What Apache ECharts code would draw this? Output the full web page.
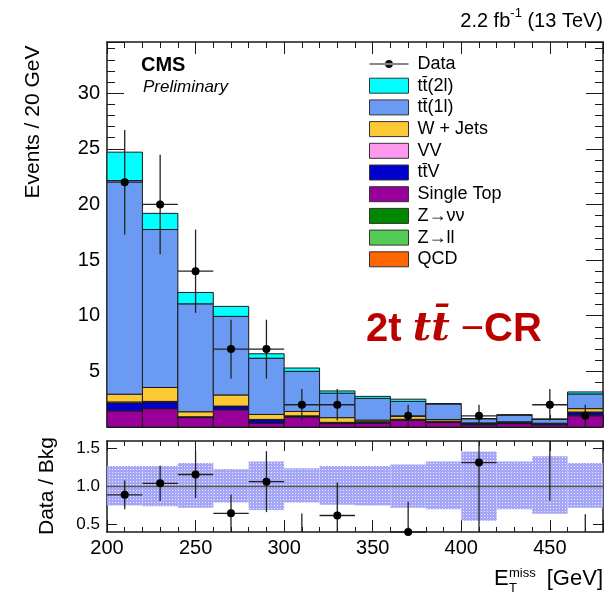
<!DOCTYPE html>
<html>
<head>
<meta charset="utf-8">
<script src="https://cdn.jsdelivr.net/npm/echarts@6.0.0/dist/echarts.min.js"></script>
<style>
    html, body { margin: 0; padding: 0; background: #fff; }
    #chart { width: 608px; height: 592px; }
</style>
</head>
<body>
<div id="chart"></div>
<script>
// bins of MET, 20 GeV wide, last one carries the overflow
const binLow = [200, 220, 240, 260, 280, 300, 320, 340, 360, 380, 400, 420, 440, 460];
const binWidth = 20;

// stacked backgrounds (events / bin), bottom of the stack first
const qcd       = [0, 0, 0, 0, 0, 0, 0, 0, 0, 0, 0, 0, 0, 0];
const zll       = [0, 0, 0, 0, 0, 0, 0, 0, 0, 0, 0, 0, 0, 0];
const zvv       = [0, 0, 0, 0, 0, 0, 0, 0, 0, 0, 0, 0, 0, 0];
const singleTop = [1.45, 1.65, 0.85, 1.55, 0.35, 0.9, 0.3, 0.35, 0.6, 0.4, 0.2, 0.3, 0.2, 1.05];
const ttV       = [0.7, 0.6, 0.05, 0.3, 0.3, 0.08, 0.1, 0.1, 0.08, 0.1, 0.1, 0.1, 0.1, 0.25];
const vv        = [0.1, 0.05, 0.02, 0.03, 0.03, 0.02, 0.02, 0.02, 0.02, 0.02, 0.02, 0.02, 0.02, 0.05];
const wJets     = [0.7, 1.25, 0.45, 1.0, 0.45, 0.4, 0.42, 0.15, 0.25, 0.15, 0.05, 0.05, 0.02, 0.3];
const tt1l      = [19.2, 14.2, 9.7, 7.06, 5.05, 3.6, 2.2, 1.95, 1.35, 1.4, 0.37, 0.6, 0.35, 1.32];
const tt2l      = [2.55, 1.45, 1.02, 0.9, 0.4, 0.3, 0.2, 0.18, 0.2, 0.03, 0.02, 0.03, 0.03, 0.18];

// observed events
const dataCounts = [22, 20, 14, 7, 7, 2, 2, 0, 1, 0, 1, 0, 2, 1];

// background uncertainty band in the ratio panel
const bandUp   = [1.27, 1.27, 1.31, 1.23, 1.33, 1.24, 1.27, 1.27, 1.29, 1.33, 1.46, 1.33, 1.40, 1.31];
const bandDown = [0.75, 0.74, 0.72, 0.79, 0.69, 0.79, 0.76, 0.75, 0.72, 0.70, 0.55, 0.70, 0.64, 0.72];

const FONT = '"Liberation Sans", Arial, Helvetica, sans-serif';
const INK = '#1a1a1a';

const components = [
    { name: 'QCD', color: '#ff6600', values: qcd },
    { name: 'Z→ll', color: '#55cc55', values: zll },
    { name: 'Z→νν', color: '#008800', values: zvv },
    { name: 'Single Top', color: '#990099', values: singleTop },
    { name: 'tt\u0304V', color: '#0000cc', values: ttV },
    { name: 'VV', color: '#ff99ee', values: vv },
    { name: 'W + Jets', color: '#fcc934', values: wJets },
    { name: 'tt\u0304(1l)', color: '#6b9af3', values: tt1l },
    { name: 'tt\u0304(2l)', color: '#00ffff', values: tt2l },
];

// dotted tile for the uncertainty band (lavender with small white holes)
const tile = document.createElement('canvas');
tile.width = 3;
tile.height = 3;
const tctx = tile.getContext('2d');
tctx.fillStyle = '#a6a6f7';
tctx.fillRect(0, 0, 3, 3);
tctx.fillStyle = '#ececfd';
tctx.fillRect(1, 1, 1, 1);

function histItem(params, api) {
    const p0 = api.coord([api.value(0), api.value(3)]);
    const p1 = api.coord([api.value(1), api.value(2)]);
    return {
        type: 'rect',
        shape: { x: p0[0], y: p0[1], width: p1[0] - p0[0], height: p1[1] - p0[1] },
        style: { fill: api.visual('color'), stroke: INK, lineWidth: 1 },
    };
}

function bandItem(params, api) {
    const p0 = api.coord([api.value(0), api.value(3)]);
    const p1 = api.coord([api.value(1), api.value(2)]);
    return {
        type: 'rect',
        shape: { x: p0[0], y: p0[1], width: p1[0] - p0[0], height: p1[1] - p0[1] },
        style: { fill: { image: tile, repeat: 'repeat' } },
    };
}

function dataItem(params, api) {
    const x = api.value(0);
    const n = api.value(1);
    if (n <= 0) return null;
    const e = Math.sqrt(n);
    const c = api.coord([x, n]);
    const t = api.coord([x, n + e]);
    const b = api.coord([x, n - e]);
    const l = api.coord([x - binWidth / 2, n]);
    const r = api.coord([x + binWidth / 2, n]);
    const line = { stroke: '#222', lineWidth: 1.3 };
    return {
        type: 'group',
        children: [
            { type: 'line', shape: { x1: c[0], y1: t[1], x2: c[0], y2: b[1] }, style: line },
            { type: 'line', shape: { x1: l[0], y1: c[1], x2: r[0], y2: c[1] }, style: line },
            { type: 'circle', shape: { cx: c[0], cy: c[1], r: 4 }, style: { fill: '#000' } },
        ],
    };
}

function ratioItem(params, api) {
    const x = api.value(0);
    const n = api.value(1);
    const tot = api.value(2);
    if (n <= 0) return null;
    const cs = params.coordSys;
    const yTop = cs.y;
    const yBot = cs.y + cs.height;
    const clamp = (y) => Math.min(yBot, Math.max(yTop, y));
    const e = Math.sqrt(n);
    const c = api.coord([x, n / tot]);
    const hi = clamp(api.coord([x, (n + e) / tot])[1]);
    const lo = clamp(api.coord([x, (n - e) / tot])[1]);
    const line = { stroke: '#222', lineWidth: 1.3 };
    const children = [];
    if (lo > hi) {
        children.push({ type: 'line', shape: { x1: c[0], y1: hi, x2: c[0], y2: lo }, style: line });
    }
    if (c[1] >= yTop - 1 && c[1] <= yBot + 1) {
        const l = api.coord([x - binWidth / 2, n / tot]);
        const r = api.coord([x + binWidth / 2, n / tot]);
        children.push({ type: 'line', shape: { x1: l[0], y1: c[1], x2: r[0], y2: c[1] }, style: line });
        children.push({ type: 'circle', shape: { cx: c[0], cy: c[1], r: 4 }, style: { fill: '#000' } });
    }
    return { type: 'group', children };
}

// build stacked series
const cum = binLow.map(() => 0);
const histSeries = components.map((comp) => ({
    type: 'custom',
    name: comp.name,
    xAxisIndex: 0,
    yAxisIndex: 0,
    silent: true,
    itemStyle: { color: comp.color },
    encode: { x: [0, 1], y: [2, 3] },
    renderItem: histItem,
    data: binLow.map((x, i) => {
        const base = cum[i];
        cum[i] += comp.values[i];
        return [x, x + binWidth, base, cum[i]];
    }),
}));
const totals = cum.slice();

// axis helpers
function xAx(grid, pos, interval, len, extra) {
    return Object.assign({
        type: 'value', gridIndex: grid, position: pos, min: 200, max: 480, interval: interval,
        axisLine: { show: false, onZero: false },
        axisTick: { show: true, inside: true, length: len, lineStyle: { color: INK, width: 1 } },
        axisLabel: { show: false },
        splitLine: { show: false },
    }, extra || {});
}
function yAx(grid, pos, min, max, interval, len, extra) {
    return Object.assign({
        type: 'value', gridIndex: grid, position: pos, min: min, max: max, interval: interval,
        axisLine: { show: false, onZero: false },
        axisTick: { show: true, inside: true, length: len, lineStyle: { color: INK, width: 1 } },
        axisLabel: { show: false },
        splitLine: { show: false },
    }, extra || {});
}
const frameLine = { show: true, onZero: false, lineStyle: { color: INK, width: 1.5 } };

const chart = echarts.init(document.getElementById('chart'), null, { renderer: 'canvas' });

chart.setOption({
    animation: false,
    backgroundColor: '#fff',
    textStyle: { fontFamily: FONT, color: '#000' },
    grid: [
        { left: 107, right: 5, top: 42, height: 385 },
        { left: 107, right: 5, top: 441, height: 91 },
    ],
    xAxis: [
        xAx(0, 'bottom', 50, 12, { axisLine: frameLine }),
        xAx(0, 'bottom', 10, 6),
        xAx(0, 'top', 50, 12, { axisLine: frameLine }),
        xAx(0, 'top', 10, 6),
        xAx(1, 'bottom', 50, 12, {
            axisLine: frameLine,
            axisLabel: {
                show: true, fontSize: 20, color: '#000', margin: 6,
                formatter: (v) => (v % 50 === 0 && v < 480 ? String(v) : ''),
            },
        }),
        xAx(1, 'bottom', 10, 5),
        xAx(1, 'top', 50, 10, { axisLine: frameLine }),
        xAx(1, 'top', 10, 5),
    ],
    yAxis: [
        yAx(0, 'left', 0, 34.6, 5, 17, {
            axisLine: frameLine,
            axisLabel: {
                show: true, fontSize: 20, color: '#000', margin: 7,
                formatter: (v) => (v > 0 && v % 5 === 0 ? String(v) : ''),
            },
        }),
        yAx(0, 'left', 0, 34.6, 1, 8),
        yAx(0, 'right', 0, 34.6, 5, 17, { axisLine: frameLine }),
        yAx(0, 'right', 0, 34.6, 1, 8),
        yAx(1, 'left', 0.4, 1.6, 0.1, 10, {
            axisLine: frameLine,
            axisTick: { show: true, inside: true, length: 10, customValues: [0.5, 1, 1.5], lineStyle: { color: INK } },
            axisLabel: {
                show: true, fontSize: 17, color: '#000', margin: 7,
                customValues: [0.5, 1, 1.5],
                formatter: (v) => v.toFixed(1),
            },
        }),
        yAx(1, 'right', 0.4, 1.6, 0.1, 10, {
            axisLine: frameLine,
            axisTick: { show: true, inside: true, length: 10, customValues: [0.5, 1, 1.5], lineStyle: { color: INK } },
        }),
    ],
    legend: {
        orient: 'vertical',
        left: 369,
        top: 55,
        padding: 0,
        itemWidth: 39,
        itemHeight: 15,
        itemGap: 3.7,
        selectedMode: false,
        textStyle: { fontSize: 18, color: '#000', fontFamily: FONT, lineHeight: 18, padding: [0, 0, 0, 4] },
        data: [
            {
                name: 'Data',
                icon: 'path://M0,9.4 L40,9.4 L40,10.6 L0,10.6 Z M16,10 A4,4 0 1,0 24,10 A4,4 0 1,0 16,10 Z',
                itemStyle: { color: '#111' },
            },
        ].concat(components.slice().reverse().map((c) => ({
            name: c.name,
            icon: 'rect',
            itemStyle: { color: c.color, borderColor: '#333', borderWidth: 1 },
        }))),
    },
    series: histSeries.concat([
        {
            type: 'custom',
            name: 'Data',
            xAxisIndex: 0,
            yAxisIndex: 0,
            silent: true,
            itemStyle: { color: '#000' },
            z: 5,
            encode: { x: 0, y: 1 },
            renderItem: dataItem,
            data: binLow.map((x, i) => [x + binWidth / 2, dataCounts[i]]),
        },
        {
            type: 'custom',
            name: 'band',
            xAxisIndex: 4,
            yAxisIndex: 4,
            silent: true,
            encode: { x: [0, 1], y: [2, 3] },
            renderItem: bandItem,
            data: binLow.map((x, i) => [x, x + binWidth, bandDown[i], bandUp[i]]),
        },
        {
            type: 'line',
            name: 'unity',
            xAxisIndex: 4,
            yAxisIndex: 4,
            silent: true,
            showSymbol: false,
            z: 3,
            lineStyle: { color: '#555', width: 1.5 },
            data: [[200, 1], [480, 1]],
        },
        {
            type: 'custom',
            name: 'ratio',
            xAxisIndex: 4,
            yAxisIndex: 4,
            silent: true,
            z: 5,
            encode: { x: 0, y: 1 },
            renderItem: ratioItem,
            data: binLow.map((x, i) => [x + binWidth / 2, dataCounts[i], totals[i]]),
        },
    ]),
    graphic: [
        {
            type: 'text', right: 5, top: 7,
            style: {
                text: '{a|2.2 fb}{s|-1}{a| (13 TeV)}',
                rich: {
                    a: { fontSize: 20, fontFamily: FONT, fill: '#000', lineHeight: 24, verticalAlign: 'bottom' },
                    s: { fontSize: 13, fontFamily: FONT, fill: '#000', lineHeight: 13, verticalAlign: 'top' },
                },
            },
        },
        {
            type: 'text', x: 141, y: 65,
            style: { text: 'CMS', fontSize: 20, fontWeight: 'bold', fontFamily: FONT, fill: '#000', verticalAlign: 'middle' },
        },
        {
            type: 'text', x: 143, y: 87,
            style: { text: 'Preliminary', fontSize: 17, fontStyle: 'italic', fontFamily: FONT, fill: '#000', verticalAlign: 'middle' },
        },
        {
            type: 'text', x: 366, y: 330,
            style: {
                text: '{a|2t }{m|tt\u0304}{a| }{d|\u2212}{a|CR}',
                verticalAlign: 'middle',
                rich: {
                    a: { fontSize: 40, fontWeight: 'bold', fontFamily: FONT, fill: '#bb0000' },
                    m: { fontSize: 40, fontWeight: 'bold', fontStyle: 'italic', fontFamily: '"DejaVu Serif", serif', fill: '#bb0000' },
                    d: { fontSize: 40, fontFamily: FONT, fill: '#bb0000' },
                },
            },
        },
        {
            type: 'text', x: 33, y: 122, rotation: Math.PI / 2,
            style: { text: 'Events / 20 GeV', fontSize: 21, fontFamily: FONT, fill: '#000', align: 'center', verticalAlign: 'middle' },
        },
        {
            type: 'text', x: 47, y: 486, rotation: Math.PI / 2,
            style: { text: 'Data / Bkg', fontSize: 21, fontFamily: FONT, fill: '#000', align: 'center', verticalAlign: 'middle' },
        },
        // E_T^miss [GeV]
        {
            type: 'text', x: 494, y: 579,
            style: { text: 'E', fontSize: 22, fontFamily: FONT, fill: '#000', verticalAlign: 'middle' },
        },
        {
            type: 'text', x: 509, y: 573,
            style: { text: 'miss', fontSize: 13, fontFamily: FONT, fill: '#000', verticalAlign: 'middle' },
        },
        {
            type: 'text', x: 509, y: 588,
            style: { text: 'T', fontSize: 13, fontFamily: FONT, fill: '#000', verticalAlign: 'middle' },
        },
        {
            type: 'text', right: 5, y: 579,
            style: { text: '[GeV]', fontSize: 22, fontFamily: FONT, fill: '#000', verticalAlign: 'middle' },
        },
    ],
});
</script>
</body>
</html>
